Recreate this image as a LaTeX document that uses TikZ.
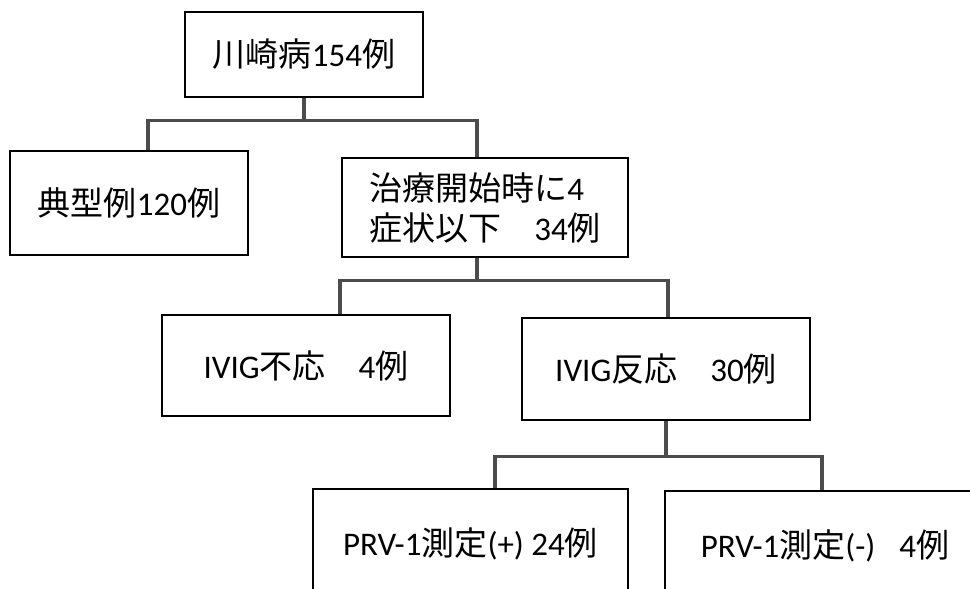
\documentclass[tikz,border=0pt]{standalone}
\usepackage{fontspec}
\setmainfont{Carlito}
\newfontfamily\jp{Noto Sans CJK JP}
\newcommand{\J}[1]{{\jp #1}}
\tikzset{
  box/.style={draw=black, line width=1.5pt, fill=white, font=\fontsize{33}{40}\selectfont, inner sep=4pt},
  conn/.style={draw=black!70, line width=3.3pt, line join=miter}
}
\begin{document}
\begin{tikzpicture}[x=1pt,y=-1pt]
\useasboundingbox (0,0) rectangle (970,589);
\clip (0,0) rectangle (970,589);
\fill[white] (0,0) rectangle (970,589);

\node[box, minimum width=238pt, minimum height=85pt] (top) at (304,54.5) {\J{川崎病}154\J{例}};
\node[box, minimum width=238pt, minimum height=104pt] (left) at (129,203) {\J{典型例}120\J{例}};
\node[box, minimum width=286pt, minimum height=99pt, align=left] (mid) at (485,207.5) {\J{治療開始時に}4\\\J{症状以下　}34\J{例}};
\node[box, minimum width=288pt, minimum height=101pt] (nr) at (306,365.5) {IVIG\J{不応　}4\J{例}};
\node[box, minimum width=288pt, minimum height=102pt] (r) at (666,369) {IVIG\J{反応　}30\J{例}};
\node[box, minimum width=315pt, minimum height=110pt] (p1) at (470.5,544) {PRV-1\J{測定}(+) 24\J{例}};
\node[box, minimum width=320pt, minimum height=110pt] (p2) at (825,546) {PRV-1\J{測定}(-)\hspace{24pt}4\J{例}\hspace{8pt}};

\draw[conn] (top.south) -- ++(0,23) coordinate (j1);
\draw[conn] ([xshift=19pt]left.north) |- (j1) -| ([xshift=-8pt]mid.north);

\draw[conn] ([xshift=-8pt]mid.south) -- ++(0,23) coordinate (j2);
\draw[conn] ([xshift=34pt]nr.north) |- (j2) -| ([xshift=2pt]r.north);

\draw[conn] (r.south) -- ++(0,36) coordinate (j3);
\draw[conn] ([xshift=24.5pt]p1.north) |- (j3) -| ([xshift=-3pt]p2.north);
\end{tikzpicture}
\end{document}
